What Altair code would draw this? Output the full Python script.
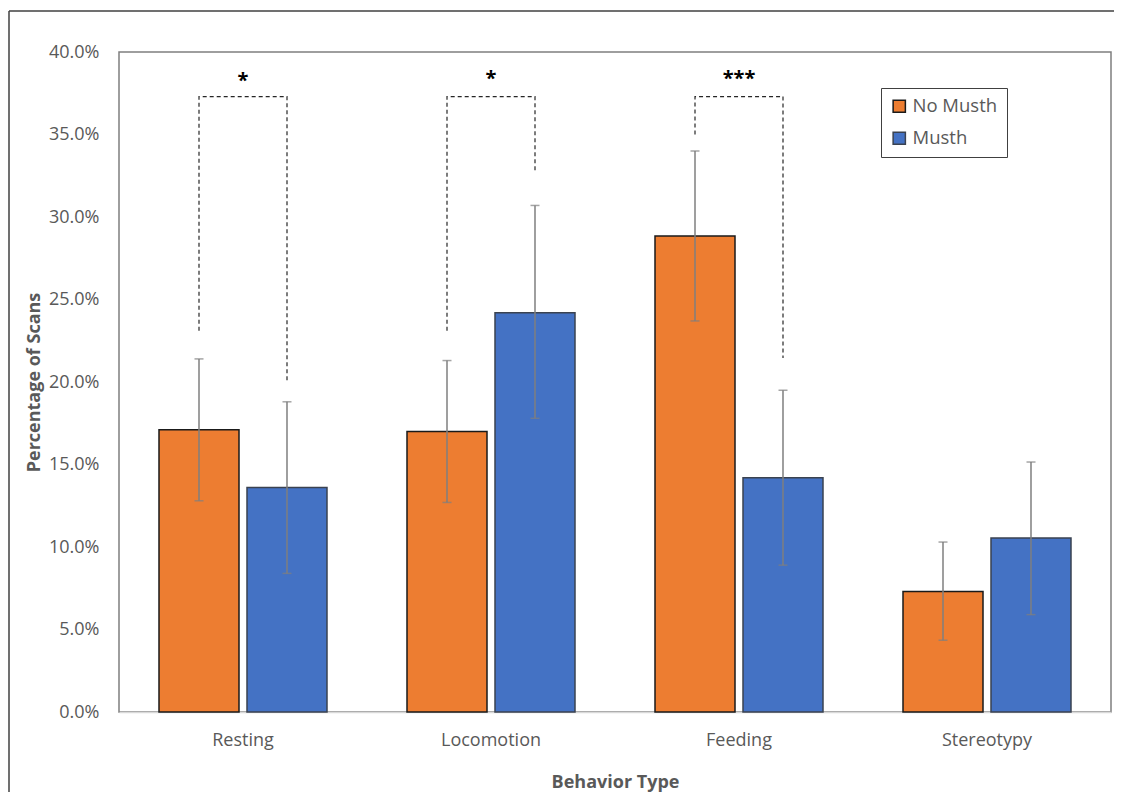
import altair as alt
import pandas as pd

categories = ["Resting", "Locomotion", "Feeding", "Stereotypy"]
groups = ["No Musth", "Musth"]
no_musth = [0.171, 0.170, 0.2885, 0.073]
musth = [0.136, 0.242, 0.142, 0.1055]
no_musth_lo = [0.128, 0.127, 0.237, 0.0435]
no_musth_hi = [0.214, 0.213, 0.340, 0.103]
musth_lo = [0.084, 0.178, 0.089, 0.059]
musth_hi = [0.188, 0.307, 0.195, 0.1515]

sig_categories = ["Resting", "Locomotion", "Feeding"]
sig_labels = ["*", "*", "***"]
bracket_top = [0.373, 0.373, 0.373]
bracket_left_end = [0.231, 0.231, 0.350]
bracket_right_end = [0.201, 0.328, 0.2145]
star_y = [0.385, 0.386, 0.386]

y_ticks = [0.0, 0.05, 0.10, 0.15, 0.20, 0.25, 0.30, 0.35, 0.40]

FONT = "Open Sans"
GRAY = "#595959"

rows = []
for i, c in enumerate(categories):
    rows.append({"category": c, "group": "No Musth", "value": no_musth[i],
                 "lo": no_musth_lo[i], "hi": no_musth_hi[i]})
    rows.append({"category": c, "group": "Musth", "value": musth[i],
                 "lo": musth_lo[i], "hi": musth_hi[i]})
df = pd.DataFrame(rows)

brows = []
for i, c in enumerate(sig_categories):
    brows.append({"category": c, "group": "No Musth", "y": bracket_left_end[i], "o": 0})
    brows.append({"category": c, "group": "No Musth", "y": bracket_top[i], "o": 1})
    brows.append({"category": c, "group": "Musth", "y": bracket_top[i], "o": 2})
    brows.append({"category": c, "group": "Musth", "y": bracket_right_end[i], "o": 3})
bdf = pd.DataFrame(brows)

sdf = pd.DataFrame({"category": sig_categories, "label": sig_labels, "y": star_y})

x_enc = alt.X("category:N", sort=categories,
              scale=alt.Scale(paddingInner=0.3226, paddingOuter=0.1613),
              axis=alt.Axis(title="Behavior Type", labelAngle=0, ticks=False,
                            domainColor="#d9d9d9", domainWidth=1.5,
                            labelPadding=19, titlePadding=24))
xo_enc = alt.XOffset("group:N", sort=groups,
                     scale=alt.Scale(domain=groups, paddingInner=0.0909, paddingOuter=0))
y_scale = alt.Scale(domain=[0, 0.4], nice=False)
legend = alt.Legend(title=None, orient="none", legendX=762, legendY=36,
                    strokeColor="#404040", padding=9, symbolType="square",
                    symbolSize=150, symbolStrokeWidth=1.5, labelFontSize=18.5,
                    labelColor=GRAY, labelFont=FONT, rowPadding=13,
                    fillColor="white")

bars = alt.Chart(df).mark_bar(strokeWidth=1.5).encode(
    x=x_enc,
    xOffset=xo_enc,
    y=alt.Y("value:Q", scale=y_scale,
            axis=alt.Axis(title="Percentage of Scans", format=".1%", values=y_ticks,
                          grid=False, ticks=False, domain=False, labelPadding=20,
                          titlePadding=5)),
    fill=alt.Fill("group:N", scale=alt.Scale(domain=groups, range=["#ED7D31", "#4472C4"]),
                  legend=legend),
    stroke=alt.Stroke("group:N", scale=alt.Scale(domain=groups, range=["#1a1a1a", "#3a4250"]),
                      legend=legend),
)

err = alt.Chart(df).mark_rule(color="#7f7f7f", strokeWidth=1.5).encode(
    x=alt.X("category:N", sort=categories), xOffset=xo_enc,
    y=alt.Y("lo:Q", scale=y_scale), y2="hi:Q")
cap_hi = alt.Chart(df).mark_tick(color="#7f7f7f", thickness=1.5, size=9, orient="horizontal").encode(
    x=alt.X("category:N", sort=categories), xOffset=xo_enc, y=alt.Y("hi:Q", scale=y_scale))
cap_lo = alt.Chart(df).mark_tick(color="#7f7f7f", thickness=1.5, size=9, orient="horizontal").encode(
    x=alt.X("category:N", sort=categories), xOffset=xo_enc, y=alt.Y("lo:Q", scale=y_scale))

brackets = alt.Chart(bdf).mark_line(color="#262626", strokeWidth=1.2, strokeDash=[4, 3]).encode(
    x=alt.X("category:N", sort=categories), xOffset=xo_enc,
    y=alt.Y("y:Q", scale=y_scale), order="o:Q", detail="category:N")

stars = alt.Chart(sdf).mark_text(fontSize=20, font=FONT, fontWeight="bold", color="#000000",
                                 baseline="middle", dy=4).encode(
    x=alt.X("category:N", sort=categories), y=alt.Y("y:Q", scale=y_scale), text="label:N")

one = pd.DataFrame({"a": [0]})
frame_top = alt.Chart(one).mark_rule(color="#404040", strokeWidth=1.5).encode(
    x=alt.value(-110), x2=alt.value(1000), y=alt.value(-41))
frame_left = alt.Chart(one).mark_rule(color="#404040", strokeWidth=1.5).encode(
    x=alt.value(-110), y=alt.value(-41), y2=alt.value(760))

chart = alt.layer(bars, err, cap_hi, cap_lo, brackets, stars, frame_top, frame_left).properties(
    width=992, height=660,
    autosize=alt.AutoSizeParams(type="none"),
    padding={"left": 111, "top": 44, "right": 3, "bottom": 80},
).configure_view(
    stroke="#7f7f7f", strokeWidth=1.5
).configure_axis(
    labelFont=FONT, labelFontSize=18, labelColor=GRAY,
    titleFont=FONT, titleFontSize=18, titleColor=GRAY, titleFontWeight="bold",
)

chart.save("out.html", embed_options={"renderer": "svg", "actions": False})
